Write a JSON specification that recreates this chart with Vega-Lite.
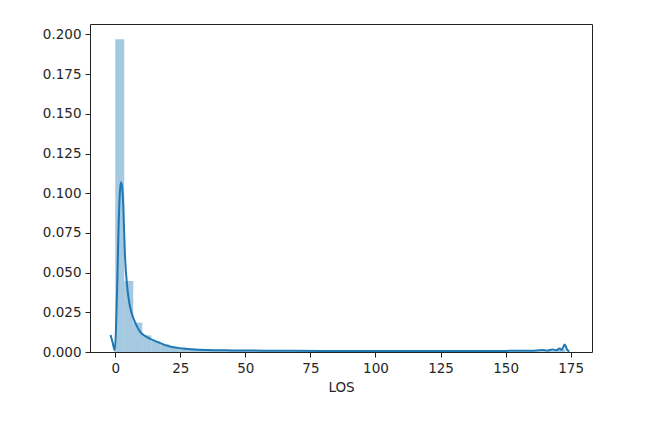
{
  "$schema": "https://vega.github.io/schema/vega-lite/v6.json",
  "width": 502,
  "height": 328,
  "autosize": {"type": "none"},
  "padding": {"left": 90, "top": 24, "right": 73, "bottom": 75},
  "background": "white",
  "config": {
    "view": {"stroke": "#222", "strokeWidth": 1},
    "axis": {
      "domain": false,
      "grid": false,
      "ticks": true,
      "tickColor": "#222",
      "tickSize": 5,
      "tickWidth": 1,
      "labelFont": "DejaVu Sans",
      "labelFontSize": 13.5,
      "labelColor": "#262626",
      "labelPadding": 4,
      "titleFont": "DejaVu Sans",
      "titleFontSize": 13.5,
      "titleFontWeight": "normal",
      "titleColor": "#262626"
    }
  },
  "datasets": {
    "hist": [
      {"x0": 0.0, "x1": 3.46, "d": 0.197},
      {"x0": 3.46, "x1": 6.92, "d": 0.0447},
      {"x0": 6.92, "x1": 10.38, "d": 0.0185},
      {"x0": 10.38, "x1": 13.84, "d": 0.0105},
      {"x0": 13.84, "x1": 17.3, "d": 0.0068},
      {"x0": 17.3, "x1": 20.76, "d": 0.0048},
      {"x0": 20.76, "x1": 24.22, "d": 0.0036},
      {"x0": 24.22, "x1": 27.68, "d": 0.0028},
      {"x0": 27.68, "x1": 31.14, "d": 0.0022},
      {"x0": 31.14, "x1": 34.6, "d": 0.0018},
      {"x0": 34.6, "x1": 38.06, "d": 0.0015},
      {"x0": 38.06, "x1": 41.52, "d": 0.0012},
      {"x0": 41.52, "x1": 44.98, "d": 0.001},
      {"x0": 44.98, "x1": 48.44, "d": 0.0009},
      {"x0": 48.44, "x1": 51.9, "d": 0.0008},
      {"x0": 51.9, "x1": 55.36, "d": 0.0007},
      {"x0": 55.36, "x1": 58.82, "d": 0.0006},
      {"x0": 58.82, "x1": 62.28, "d": 0.0005},
      {"x0": 62.28, "x1": 65.74, "d": 0.0005},
      {"x0": 65.74, "x1": 69.2, "d": 0.0004},
      {"x0": 69.2, "x1": 72.66, "d": 0.0004},
      {"x0": 72.66, "x1": 76.12, "d": 0.0004},
      {"x0": 76.12, "x1": 79.58, "d": 0.0003},
      {"x0": 79.58, "x1": 83.04, "d": 0.0003},
      {"x0": 83.04, "x1": 86.5, "d": 0.0003},
      {"x0": 86.5, "x1": 89.96, "d": 0.0003},
      {"x0": 89.96, "x1": 93.42, "d": 0.0003},
      {"x0": 93.42, "x1": 96.88, "d": 0.0002},
      {"x0": 96.88, "x1": 100.34, "d": 0.0002},
      {"x0": 100.34, "x1": 103.8, "d": 0.0002},
      {"x0": 103.8, "x1": 107.26, "d": 0.0002},
      {"x0": 107.26, "x1": 110.72, "d": 0.0002},
      {"x0": 110.72, "x1": 114.18, "d": 0.0002},
      {"x0": 114.18, "x1": 117.64, "d": 0.0002},
      {"x0": 117.64, "x1": 121.1, "d": 0.0002},
      {"x0": 121.1, "x1": 124.56, "d": 0.0002},
      {"x0": 124.56, "x1": 128.02, "d": 0.0002},
      {"x0": 128.02, "x1": 131.48, "d": 0.0002},
      {"x0": 131.48, "x1": 134.94, "d": 0.0002},
      {"x0": 134.94, "x1": 138.4, "d": 0.0002},
      {"x0": 138.4, "x1": 141.86, "d": 0.0002},
      {"x0": 141.86, "x1": 145.32, "d": 0.0002},
      {"x0": 145.32, "x1": 148.78, "d": 0.0002},
      {"x0": 148.78, "x1": 152.24, "d": 0.0002},
      {"x0": 152.24, "x1": 155.7, "d": 0.0003},
      {"x0": 155.7, "x1": 159.16, "d": 0.0003},
      {"x0": 159.16, "x1": 162.62, "d": 0.0004},
      {"x0": 162.62, "x1": 166.08, "d": 0.0005},
      {"x0": 166.08, "x1": 169.54, "d": 0.0008},
      {"x0": 169.54, "x1": 173.0, "d": 0.0015}
    ],
    "kde": [
      {"x": -1.8, "y": 0.0107},
      {"x": -1.0, "y": 0.006},
      {"x": -0.2, "y": 0.001},
      {"x": 0.3, "y": 0.015},
      {"x": 0.8, "y": 0.045},
      {"x": 1.3, "y": 0.08},
      {"x": 1.8, "y": 0.101},
      {"x": 2.2, "y": 0.107},
      {"x": 2.7, "y": 0.103},
      {"x": 3.1, "y": 0.0915},
      {"x": 3.7, "y": 0.062},
      {"x": 4.6, "y": 0.041},
      {"x": 5.4, "y": 0.031},
      {"x": 6.3, "y": 0.0245},
      {"x": 7.8, "y": 0.018},
      {"x": 9.5, "y": 0.0128},
      {"x": 12.0, "y": 0.0095},
      {"x": 15.9, "y": 0.0065},
      {"x": 19.5, "y": 0.0042},
      {"x": 23.6, "y": 0.0026},
      {"x": 29.0, "y": 0.0018},
      {"x": 35.0, "y": 0.0013},
      {"x": 45.0, "y": 0.001},
      {"x": 60.0, "y": 0.0008},
      {"x": 80.0, "y": 0.0007},
      {"x": 100.0, "y": 0.0007},
      {"x": 125.0, "y": 0.0007},
      {"x": 150.0, "y": 0.0007},
      {"x": 160.0, "y": 0.0008},
      {"x": 164.0, "y": 0.0012},
      {"x": 166.0, "y": 0.0009},
      {"x": 168.0, "y": 0.0016},
      {"x": 169.5, "y": 0.0011},
      {"x": 170.8, "y": 0.0022},
      {"x": 171.6, "y": 0.0014},
      {"x": 172.7, "y": 0.0048},
      {"x": 173.6, "y": 0.0015},
      {"x": 174.5, "y": 0.0003}
    ]
  },
  "layer": [
    {
      "data": {"name": "hist"},
      "mark": {"type": "rect", "color": "#1f77b4", "opacity": 0.4},
      "encoding": {
        "x": {"field": "x0", "type": "quantitative",
              "scale": {"domain": [-9.7, 183.2], "nice": false, "zero": false},
              "axis": {"values": [0, 25, 50, 75, 100, 125, 150, 175], "title": "LOS", "titlePadding": 6}},
        "x2": {"field": "x1"},
        "y": {"field": "d", "type": "quantitative",
              "scale": {"domain": [0, 0.2066], "nice": false},
              "axis": {"values": [0, 0.025, 0.05, 0.075, 0.1, 0.125, 0.15, 0.175, 0.2], "format": ".3f", "title": null}},
        "y2": {"datum": 0}
      }
    },
    {
      "data": {"name": "kde"},
      "mark": {"type": "line", "color": "#1f77b4", "strokeWidth": 2, "interpolate": "monotone"},
      "encoding": {
        "x": {"field": "x", "type": "quantitative"},
        "y": {"field": "y", "type": "quantitative"}
      }
    }
  ]
}
